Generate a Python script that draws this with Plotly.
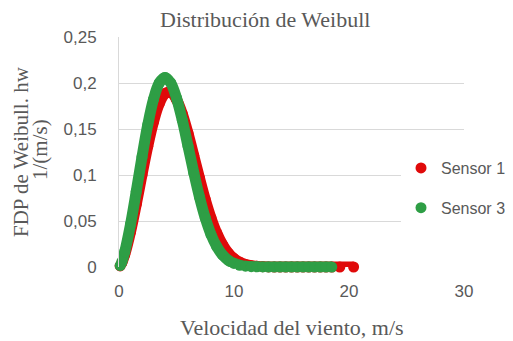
import plotly.graph_objects as go

# ---- data ----
sensor1_x = [0.1, 0.25, 0.5, 1, 1.5, 2, 2.5, 3, 3.5, 4, 4.5, 5, 5.5, 6, 6.5, 7, 7.5, 8,
             8.5, 9, 9.5, 10, 10.5, 11, 11.5, 12, 12.5, 13, 13.5, 14, 14.5, 15, 15.5, 16,
             16.5, 17, 17.5, 18, 18.5, 19.2, 20.4]
sensor1_y = [0.0012, 0.0048, 0.0136, 0.0381, 0.0681, 0.1002, 0.1312, 0.1579, 0.1776,
             0.1886, 0.1899, 0.1821, 0.1665, 0.1453, 0.1211, 0.0965, 0.0733, 0.0533,
             0.0369, 0.0244, 0.0153, 0.0092, 0.0052, 0.0028, 0.0014, 0.0007, 0.0003,
             0.0001, 0, 0, 0, 0, 0, 0, 0, 0, 0, 0, 0, 0, 0]

sensor3_x = [0.1, 0.25, 0.5, 1, 1.5, 2, 2.5, 3, 3.5, 4, 4.5, 5, 5.5, 6, 6.5, 7, 7.5, 8,
             8.5, 9, 9.5, 10, 10.5, 11, 11.5, 12, 12.5, 13, 13.5, 14, 14.5, 15, 15.5, 16,
             16.5, 17, 17.5, 18, 18.5]
sensor3_y = [0.0015, 0.0059, 0.0166, 0.0462, 0.0821, 0.1196, 0.1544, 0.1823, 0.2001,
             0.2061, 0.2001, 0.1837, 0.1597, 0.1315, 0.1027, 0.0760, 0.0533, 0.0353,
             0.0222, 0.0131, 0.0074, 0.0039, 0.0019, 0.0009, 0.0004, 0.0002, 0.0001,
             0, 0, 0, 0, 0, 0, 0, 0, 0, 0, 0, 0]

series_names = ["Sensor 1", "Sensor 3"]
x_tick_vals = [0, 10, 20, 30]
x_tick_text = ["0", "10", "20", "30"]
y_tick_vals = [0, 0.05, 0.1, 0.15, 0.2, 0.25]
y_tick_text = ["0", "0,05", "0,1", "0,15", "0,2", "0,25"]

title_text = "Distribución de Weibull"
x_title = "Velocidad del viento, m/s"
y_title_lines = ["FDP de Weibull. hw", "1/(m/s)"]

RED = "#E00A0A"
GREEN = "#2E9E45"
GREY = "#595959"
GRID = "#D9D9D9"

# page body has an 8px default margin; figure is a bit wider so the legend box fits
W, H, OFF = 525, 341, 8
PL, PR, PT, PB = 119 - OFF, 464 - OFF, 37 - OFF, 267 - OFF   # plot area in figure px
PW, PH = PR - PL, PB - PT


def px_x(wx):  # window px -> paper x
    return (wx - OFF - PL) / PW


def px_y(wy):  # window px -> paper y
    return (PB - (wy - OFF)) / PH


fig = go.Figure()
for name, xs, ys, col in [(series_names[0], sensor1_x, sensor1_y, RED),
                          (series_names[1], sensor3_x, sensor3_y, GREEN)]:
    fig.add_trace(go.Scatter(x=xs, y=ys, mode="lines", line=dict(color=col, width=11, shape="spline"),
                             showlegend=False, hoverinfo="skip", cliponaxis=False, legendgroup=name))
    fig.add_trace(go.Scatter(x=xs, y=ys, mode="markers", name=name,
                             marker=dict(color=col, size=11), cliponaxis=False, legendgroup=name))

fig.update_layout(
    width=W, height=H,
    margin=dict(l=PL, r=W - PR, t=PT, b=H - PB, pad=0),
    paper_bgcolor="white", plot_bgcolor="white",
    xaxis=dict(range=[0, 30], tickvals=x_tick_vals, ticktext=x_tick_text, showgrid=False,
               zeroline=False, showline=False, ticks="", ticklabelstandoff=12, automargin=False,
               tickfont=dict(family="Liberation Sans", size=17, color=GREY)),
    yaxis=dict(range=[0, 0.25], tickvals=y_tick_vals, ticktext=y_tick_text, showgrid=True,
               gridcolor=GRID, gridwidth=1, zeroline=False, showline=True, linecolor=GRID,
               linewidth=1, ticks="", ticklabelstandoff=18, automargin=False,
               tickfont=dict(family="Liberation Sans", size=17, color=GREY)),
    legend=dict(x=px_x(401), xanchor="left", y=px_y(188), yanchor="middle",
                bgcolor="white", traceorder="grouped", tracegroupgap=16,
                font=dict(family="Liberation Sans", size=16, color=GREY)),
    showlegend=True,
    annotations=[
        dict(text=title_text, xref="paper", yref="paper", x=px_x(265), y=px_y(20),
             xanchor="center", yanchor="middle", showarrow=False,
             font=dict(family="Liberation Serif", size=22, color=GREY)),
        dict(text=y_title_lines[0], xref="paper", yref="paper", x=px_x(21), y=px_y(152),
             xanchor="center", yanchor="middle", textangle=-90, showarrow=False,
             font=dict(family="Liberation Serif", size=21, color=GREY)),
        dict(text=y_title_lines[1], xref="paper", yref="paper", x=px_x(40), y=px_y(150),
             xanchor="center", yanchor="middle", textangle=-90, showarrow=False,
             font=dict(family="Liberation Serif", size=21, color=GREY)),
        dict(text=x_title, xref="paper", yref="paper", x=0.5, y=px_y(327),
             xanchor="center", yanchor="middle", showarrow=False,
             font=dict(family="Liberation Serif", size=22, color=GREY)),
    ],
)

fig.write_html("out.html")
